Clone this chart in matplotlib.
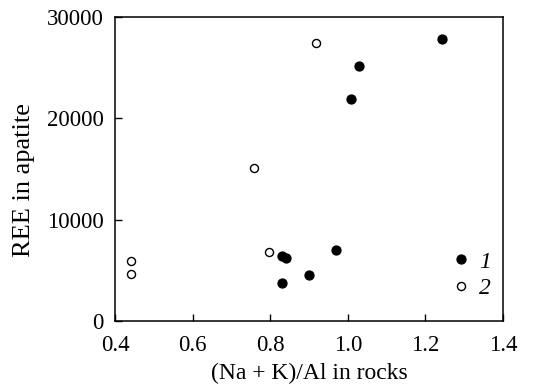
import matplotlib
matplotlib.use("Agg")
import matplotlib.pyplot as plt

# Series 1 (filled circles)
x1 = [1.244, 1.03, 1.008, 0.97, 0.83, 0.841, 0.899, 0.83]
y1 = [27800, 25200, 21900, 7000, 6400, 6250, 4570, 3750]
# Series 2 (open circles)
x2 = [0.919, 0.758, 0.798, 0.44, 0.44]
y2 = [27450, 15050, 6850, 5900, 4650]

labels = ["1", "2"]
xticks = [0.4, 0.6, 0.8, 1.0, 1.2, 1.4]
yticks = [0, 10000, 20000, 30000]

plt.rcParams['font.family'] = ['Liberation Serif', 'DejaVu Serif']

fig = plt.figure(figsize=(5.56, 3.92), dpi=100)
ax = fig.add_axes([115/556, 1-321/392, (503-115)/556, (321-17)/392])

ax.plot(x1, y1, 'o', color='black', markersize=6.4, linestyle='none', label=labels[0])
ax.plot(x2, y2, 'o', markerfacecolor='white', markeredgecolor='black',
        markeredgewidth=1.0, markersize=5.8, linestyle='none', label=labels[1])

ax.set_xlim(0.4, 1.4)
ax.set_ylim(0, 30000)
ax.set_xticks(xticks)
ax.set_yticks(yticks)
ax.set_xticklabels([f"{v:.1f}" for v in xticks])
ax.set_yticklabels([str(v) for v in yticks])
ax.tick_params(direction='in', length=5, width=1.0, labelsize=16.5,
               top=False, right=False)
ax.tick_params(axis='x', pad=10)
ax.tick_params(axis='y', pad=8)
for s in ax.spines.values():
    s.set_linewidth(1.1)

ax.set_xlabel("(Na + K)/Al in rocks", fontsize=17)
ax.xaxis.set_label_coords(0.5, -(373 - 321) / 304, transform=ax.transAxes)
ax.xaxis.label.set_va('center')
ax.set_ylabel("REE in apatite", fontsize=19)
ax.yaxis.set_label_coords(-(115 - 24) / 388, (321 - 180) / 304, transform=ax.transAxes)
ax.yaxis.label.set_va('center')

leg = ax.legend(loc='center left', bbox_to_anchor=((452 - 115) / 388, (321 - 275) / 304),
                frameon=False, handlelength=0.8, handletextpad=0.35, labelspacing=0.2,
                borderaxespad=0.0, borderpad=0.0, prop={'style': 'italic', 'size': 17})

fig.savefig("out.png", dpi=100)
